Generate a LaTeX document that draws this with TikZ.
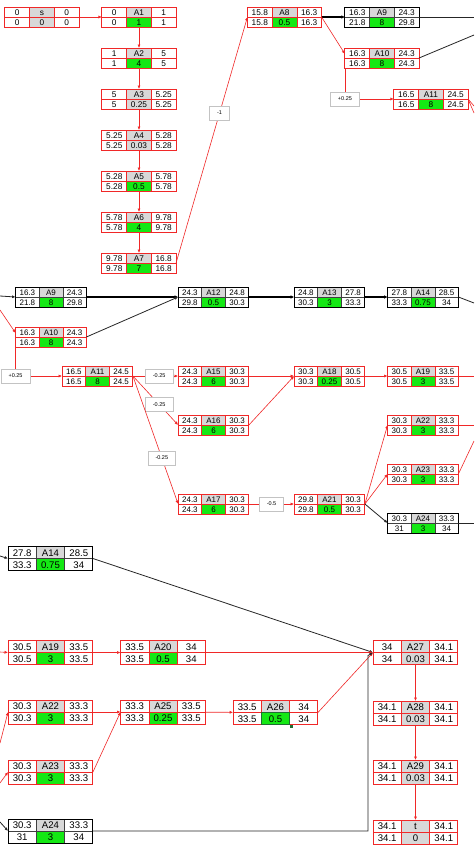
\documentclass[tikz,border=0pt]{standalone}
\usepackage{fontspec}
\setmainfont{Liberation Sans}
\usetikzlibrary{arrows.meta,calc}

\definecolor{taskred}{RGB}{240,40,40}
\definecolor{cellgray}{RGB}{216,216,216}
\definecolor{taskgreen}{RGB}{20,232,20}
\definecolor{laggray}{RGB}{195,195,195}
\definecolor{selgreen}{RGB}{30,110,50}

\newcommand{\cellfont}{\fontsize{\cellsize}{\cellsize}\selectfont}
\newcommand{\lagfont}{\fontsize{5.5}{6}\selectfont}

\tikzset{
  tasknode/.style={minimum width=3*\cw*1pt, minimum height=2*\ch*1pt, inner sep=0pt, outer sep=0pt},
  taskframe/.style={draw=taskred, line width=1pt},
  gridline/.style={draw=taskred, line width=0.6pt},
  titlefill/.style={fill=cellgray},
  durfill/.style={fill=taskgreen},
  cell/.style={inner sep=0pt, text height=0.72em, text depth=0pt, font=\cellfont},
  blacktask/.style={taskframe/.style={draw=black, line width=1pt}, gridline/.style={draw=black!75, line width=0.5pt}},
  graydur/.style={durfill/.style={fill=cellgray}},
  lag/.style={draw=laggray, fill=white, font=\lagfont, minimum height=14pt, inner xsep=7.5pt, inner ysep=2pt},
  redline/.style={draw=taskred, line width=0.6pt},
  redarrow/.style={redline, -{Latex[length=3.5pt,width=3pt]}},
  blackline/.style={draw=black!85, line width=0.8pt},
  blackarrow/.style={blackline, -{Latex[length=3.5pt,width=3pt]}},
  boldarrow/.style={draw=black, line width=1.6pt, -{Latex[length=3.5pt,width=3.5pt]}},
}

% one activity: [style]{name}{centre}{ES}{label}{EF}{LS}{duration}{LF}
\newcommand{\actbox}[9][]{%
  \begin{scope}[#1]
    \node[tasknode] (#2) at (#3) {};
    \path[titlefill] ($(#2.north west)+(\cw,0)$) rectangle ($(#2.north west)+(2*\cw,\ch)$);
    \path[durfill] ($(#2.north west)+(\cw,\ch)$) rectangle ($(#2.north west)+(2*\cw,2*\ch)$);
    \draw[gridline] ($(#2.north west)+(\cw,0)$) -- +(0,2*\ch)
      ($(#2.north west)+(2*\cw,0)$) -- +(0,2*\ch)
      ($(#2.north west)+(0,\ch)$) -- +(3*\cw,0);
    \draw[taskframe] (#2.north west) rectangle (#2.south east);
    \node[cell] (#2-1) at ($(#2.north west)+(0.5*\cw,0.5*\ch)$) {#4};
    \node[cell] (#2-2) at ($(#2.north west)+(1.5*\cw,0.5*\ch)$) {#5};
    \node[cell] (#2-3) at ($(#2.north west)+(2.5*\cw,0.5*\ch)$) {#6};
    \node[cell] (#2-4) at ($(#2.north west)+(0.5*\cw,1.5*\ch)$) {#7};
    \node[cell] (#2-5) at ($(#2.north west)+(1.5*\cw,1.5*\ch)$) {#8};
    \node[cell] (#2-6) at ($(#2.north west)+(2.5*\cw,1.5*\ch)$) {#9};
  \end{scope}}

\begin{document}
\begin{tikzpicture}[x=1pt, y=-1pt]
  \useasboundingbox[fill=white] (0,0) rectangle (474,846);

  % Top part
  \def\cw{24.7}\def\ch{10}\def\cellsize{8.3}
  \actbox[graydur]{s}{42,17}{0}{s}{0}{0}{0}{0}
  \actbox{A1}{139,17}{0}{A1}{1}{0}{1}{1}
  \actbox{A2}{139,58}{1}{A2}{5}{1}{4}{5}
  \actbox[graydur]{A3}{139,99}{5}{A3}{5.25}{5}{0.25}{5.25}
  \actbox[graydur]{A4}{139,140}{5.25}{A4}{5.28}{5.25}{0.03}{5.28}
  \actbox{A5}{139,181}{5.28}{A5}{5.78}{5.28}{0.5}{5.78}
  \actbox{A6}{139,222}{5.78}{A6}{9.78}{5.78}{4}{9.78}
  \actbox{A7}{139,263}{9.78}{A7}{16.8}{9.78}{7}{16.8}
  \actbox{A8}{284.5,17}{15.8}{A8}{16.3}{15.8}{0.5}{16.3}
  \actbox[blacktask]{A9}{382,17}{16.3}{A9}{24.3}{21.8}{8}{29.8}
  \actbox{A10}{382,58}{16.3}{A10}{24.3}{16.3}{8}{24.3}
  \actbox{A11}{431,99}{16.5}{A11}{24.5}{16.5}{8}{24.5}

  \coordinate (out9) at (474,17);
  \coordinate (out10) at (474,35);
  \coordinate (out11a) at (474,106);
  \coordinate (out11b) at (474,113);

  \draw[redarrow] (s) -- (A1);
  \draw[redarrow] (A1) -- (A2);
  \draw[redarrow] (A2) -- (A3);
  \draw[redarrow] (A3) -- (A4);
  \draw[redarrow] (A4) -- (A5);
  \draw[redarrow] (A5) -- (A6);
  \draw[redarrow] (A6) -- (A7);
  \draw[redarrow] (A7.east) -- node[lag, pos=0.61] (lagA8) {-1} (A8.west);
  \draw[boldarrow] (A8) -- (A9);
  \draw[redarrow] (A8.east) -- ($(A10.west)+(0,-4)$);
  \draw[blackline] (A9.east) -- (out9);
  \draw[blackline] (A10.east) -- (out10);
  \draw[redarrow] (A10.south west) |- node[lag, pos=0.5] (lagA11) {+0.25} (A11.west);
  \draw[redline] (A11.east) -- (out11a);
  \draw[redline] (A11.east) -- (out11b);

  % Middle part
  \def\cw{23.6}\def\ch{10}\def\cellsize{8}
  \actbox[blacktask]{mA9}{51,297}{16.3}{A9}{24.3}{21.8}{8}{29.8}
  \actbox{mA10}{51,337}{16.3}{A10}{24.3}{16.3}{8}{24.3}
  \actbox{mA11}{97.5,376}{16.5}{A11}{24.5}{16.5}{8}{24.5}
  \actbox[blacktask]{mA12}{213.5,297}{24.3}{A12}{24.8}{29.8}{0.5}{30.3}
  \actbox[blacktask]{mA13}{329.5,297}{24.8}{A13}{27.8}{30.3}{3}{33.3}
  \actbox[blacktask]{mA14}{423,297}{27.8}{A14}{28.5}{33.3}{0.75}{34}
  \actbox{mA15}{213.5,376}{24.3}{A15}{30.3}{24.3}{6}{30.3}
  \actbox{mA16}{213.5,425}{24.3}{A16}{30.3}{24.3}{6}{30.3}
  \actbox{mA17}{213.5,504}{24.3}{A17}{30.3}{24.3}{6}{30.3}
  \actbox{mA18}{329.5,376}{30.3}{A18}{30.5}{30.3}{0.25}{30.5}
  \actbox{mA19}{423,376}{30.5}{A19}{33.5}{30.5}{3}{33.5}
  \actbox{mA21}{329.5,504}{29.8}{A21}{30.3}{29.8}{0.5}{30.3}
  \actbox{mA22}{423,425}{30.3}{A22}{33.3}{30.3}{3}{33.3}
  \actbox{mA23}{423,474}{30.3}{A23}{33.3}{30.3}{3}{33.3}
  \actbox[blacktask]{mA24}{423,523}{30.3}{A24}{33.3}{31}{3}{34}

  \coordinate (inm9) at (0,296);
  \coordinate (inm10) at (0,310);
  \coordinate (outm14) at (474,303);
  \coordinate (outm19) at (474,376);
  \coordinate (outm22) at (474,425);
  \coordinate (outm23) at (474,441);
  \coordinate (outm24) at (474,523);

  \draw[blackarrow] (inm9) -- (mA9.west);
  \draw[redarrow] (inm10) -- ($(mA10.west)+(0,-4)$);
  \draw[boldarrow] (mA9) -- (mA12);
  \draw[blackarrow] (mA10.east) -- (mA12.west);
  \draw[redarrow] (mA10.south west) |- node[lag, pos=0.5] (lagmA11) {+0.25} (mA11.west);
  \draw[redarrow] (mA11.east) -- node[lag, pos=0.58] (lagmA15) {-0.25} (mA15.west);
  \draw[redarrow] (mA11.east) -- node[lag, pos=0.58] (lagmA16) {-0.25} (mA16.west);
  \draw[redarrow] (mA11.east) -- node[lag, pos=0.64] (lagmA17) {-0.25} (mA17.west);
  \draw[boldarrow] (mA12) -- (mA13);
  \draw[boldarrow] (mA13) -- (mA14);
  \draw[blackline] (mA14.east) -- (outm14);
  \draw[redarrow] (mA15) -- (mA18);
  \draw[redarrow] (mA16.east) -- (mA18.west);
  \draw[redarrow] (mA18) -- (mA19);
  \draw[redline] (mA19.east) -- (outm19);
  \draw[redarrow] (mA17) -- node[lag] (lagmA21) {-0.5} (mA21);
  \draw[redarrow] (mA21.east) -- (mA22.west);
  \draw[redarrow] (mA21.east) -- (mA23.west);
  \draw[blackarrow] (mA21.east) -- (mA24.west);
  \draw[redline] (mA22.east) -- (outm22);
  \draw[redline] (mA23.east) -- (outm23);
  \draw[blackline] (mA24.east) -- (outm24);

  % Bottom part
  \def\cw{28.3}\def\ch{12}\def\cellsize{9.6}
  \actbox[blacktask]{bA14}{50.5,558.5}{27.8}{A14}{28.5}{33.3}{0.75}{34}
  \actbox{bA19}{50.5,652.5}{30.5}{A19}{33.5}{30.5}{3}{33.5}
  \actbox{bA20}{163,652.5}{33.5}{A20}{34}{33.5}{0.5}{34}
  \actbox{bA22}{50.5,712}{30.3}{A22}{33.3}{30.3}{3}{33.3}
  \actbox{bA23}{50.5,772}{30.3}{A23}{33.3}{30.3}{3}{33.3}
  \actbox[blacktask]{bA24}{50.5,831}{30.3}{A24}{33.3}{31}{3}{34}
  \actbox{bA25}{163,712}{33.3}{A25}{33.5}{33.3}{0.25}{33.5}
  \actbox{bA26}{275.5,712.5}{33.5}{A26}{34}{33.5}{0.5}{34}
  \actbox[graydur]{bA27}{415.5,652.5}{34}{A27}{34.1}{34}{0.03}{34.1}
  \actbox[graydur]{bA28}{415.5,713}{34.1}{A28}{34.1}{34.1}{0.03}{34.1}
  \actbox[graydur]{bA29}{415.5,772}{34.1}{A29}{34.1}{34.1}{0.03}{34.1}
  \actbox[graydur]{bt}{415.5,832}{34.1}{t}{34.1}{34.1}{0}{34.1}

  % selected cell
  \draw[selgreen, line width=1.3pt] ($(bA26.north west)+(\cw,\ch)$) rectangle ($(bA26.north west)+(2*\cw,2*\ch)$);
  \fill[selgreen] ($(bA26.north west)+(2*\cw,2*\ch)$) rectangle +(3,3);

  \coordinate (inb14) at (0,556);
  \coordinate (inb19) at (0,652);
  \coordinate (inb22) at (0,743);
  \coordinate (inb23) at (0,783);
  \coordinate (inb24) at (0,822);
  \coordinate (bfoot) at ($(bA27.west)+(-5,3)$);

  \draw[blackarrow] (inb14) -- (bA14.west);
  \draw[redarrow] (inb19) -- (bA19.west);
  \draw[redarrow] (inb22) -- (bA22.west);
  \draw[redarrow] (inb23) -- (bA23.west);
  \draw[blackarrow] (inb24) -- (bA24.west);
  \draw[blackarrow] (bA14.east) -- (bA27.west);
  \draw[redarrow] (bA19) -- (bA20);
  \draw[redarrow] (bA20) -- (bA27);
  \draw[redarrow] (bA22) -- (bA25);
  \draw[redarrow] (bA23.east) -- (bA25.west);
  \draw[redarrow] (bA25) -- (bA26);
  \draw[redarrow] (bA26.east) -- (bA27.west);
  \draw[blackarrow] (bA24.east) -| (bfoot) -- (bA27.west);
  \draw[redarrow] (bA27) -- (bA28);
  \draw[redarrow] (bA28) -- (bA29);
  \draw[redarrow] (bA29) -- (bt);
\end{tikzpicture}
\end{document}
